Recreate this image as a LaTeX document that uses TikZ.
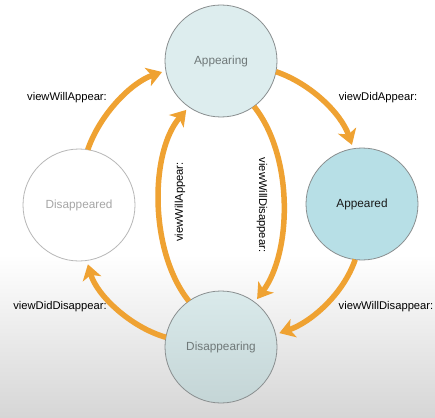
\documentclass[tikz,border=0pt]{standalone}
\usepackage{fontspec}
\setmainfont{Liberation Sans}
\usetikzlibrary{arrows.meta}
\definecolor{arr}{HTML}{EFA232}
\definecolor{apgfill}{HTML}{DDEDEE}
\definecolor{apdfill}{HTML}{B7DFE6}
\definecolor{dsgtop}{HTML}{DAEAEB}
\definecolor{dsgbot}{HTML}{C4D5D6}
\definecolor{bord}{HTML}{8A8F90}
\definecolor{softtxt}{HTML}{6F7878}
\definecolor{bggray}{HTML}{D6D6D6}
\tikzset{
  state/.style={circle, minimum size=112pt, inner sep=0pt, outer sep=0pt, draw=bord, line width=0.8pt, font=\fontsize{11.8}{14}\selectfont},
  flow/.style={draw=arr, line width=5.5pt, -{Stealth[length=15pt,width=19pt,inset=4pt]}, shorten >=4pt},
  lbl/.style={font=\fontsize{11.2}{13}\selectfont, text=black, inner sep=0pt}
}
\begin{document}
\begin{tikzpicture}[x=1pt,y=-1pt]
\useasboundingbox (0,0) rectangle (435,417);
\fill[white] (0,0) rectangle (435,417);
\shade[top color=white, bottom color=bggray] (0,255) rectangle (435,417);

\node[state, fill=apgfill, text=softtxt] (apg) at (221,61) {Appearing};
\node[state, fill=apdfill, text=black!90] (apd) at (362,204) {Appeared};
\node[state, top color=dsgtop, bottom color=dsgbot, text=softtxt] (dsg) at (221,347) {Disappearing};
\node[state, fill=white, draw=black!28, text=black!35] (dsd) at (79,205) {Disappeared};

% outer cycle
\draw[flow] (dsd.81) .. controls +(12,-35) and +(-35,12) .. (apg.190);
\draw[flow] (apg.349) .. controls +(35,12) and +(-12,-35) .. (apd.99);
\draw[flow] (apd.263) .. controls +(-12,35) and +(35,-12) .. (dsg.13);
\draw[flow] (dsg.170) .. controls +(-35,-10) and +(10,35) .. (dsd.278);
% inner arcs
\draw[flow] (dsg.125) .. controls +(-40,-50) and +(-39,45) .. (apg.235);
\draw[flow] (apg.306) .. controls +(40,50) and +(37,-50) .. (dsg.53);

\node[lbl] (l1) at (67,98) {viewWillAppear:};
\node[lbl] (l2) at (378,98) {viewDidAppear:};
\node[lbl] (l3) at (386,307) {viewWillDisappear:};
\node[lbl] (l4) at (60,307) {viewDidDisappear:};
\node[lbl, rotate=90] (l5) at (180,202) {viewWillAppear:};
\node[lbl, rotate=-90] (l6) at (262,205) {viewWillDisappear:};
\end{tikzpicture}
\end{document}
